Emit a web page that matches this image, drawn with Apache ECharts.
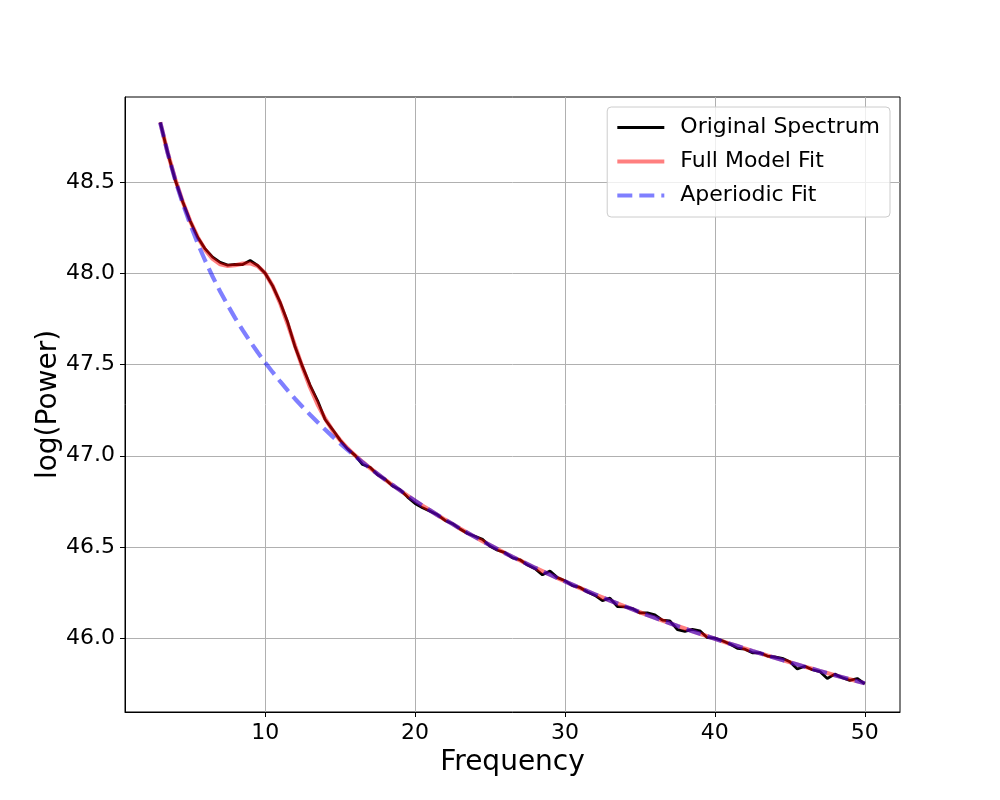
<!DOCTYPE html>
<html><head><meta charset="utf-8">
<script src="https://cdn.jsdelivr.net/npm/echarts@6/dist/echarts.min.js"></script>
<style>html,body{margin:0;padding:0;background:#fff}#c{width:1000px;height:800px}</style>
</head><body><div id="c"></div>
<script>
const freqs = [3,3.5,4,4.5,5,5.5,6,6.5,7,7.5,8,8.5,9,9.5,10,10.5,11,11.5,12,12.5,13,13.5,14,14.5,15,15.5,16,16.5,17,17.5,18,18.5,19,19.5,20,20.5,21,21.5,22,22.5,23,23.5,24,24.5,25,25.5,26,26.5,27,27.5,28,28.5,29,29.5,30,30.5,31,31.5,32,32.5,33,33.5,34,34.5,35,35.5,36,36.5,37,37.5,38,38.5,39,39.5,40,40.5,41,41.5,42,42.5,43,43.5,44,44.5,45,45.5,46,46.5,47,47.5,48,48.5,49,49.5,50];
const originalSpectrum = [48.831,48.663,48.514,48.395,48.289,48.200,48.136,48.091,48.062,48.047,48.051,48.050,48.072,48.045,48.002,47.933,47.843,47.734,47.597,47.488,47.387,47.302,47.199,47.144,47.086,47.038,47.002,46.952,46.937,46.896,46.871,46.834,46.813,46.773,46.738,46.714,46.695,46.676,46.645,46.627,46.598,46.573,46.558,46.541,46.503,46.481,46.468,46.439,46.429,46.400,46.380,46.346,46.367,46.331,46.314,46.287,46.277,46.252,46.233,46.205,46.218,46.172,46.170,46.161,46.137,46.137,46.126,46.097,46.093,46.045,46.036,46.047,46.039,46.001,45.999,45.984,45.966,45.943,45.938,45.918,45.918,45.900,45.895,45.888,45.869,45.829,45.844,45.825,45.815,45.777,45.801,45.781,45.767,45.777,45.748];
const fullModelFit = [48.831,48.663,48.519,48.395,48.289,48.200,48.131,48.081,48.052,48.042,48.046,48.055,48.057,48.042,48.002,47.933,47.838,47.724,47.602,47.483,47.375,47.282,47.204,47.139,47.086,47.041,47.002,46.966,46.932,46.900,46.869,46.839,46.810,46.781,46.753,46.726,46.700,46.674,46.649,46.625,46.600,46.577,46.554,46.531,46.509,46.488,46.466,46.445,46.425,46.405,46.385,46.366,46.347,46.328,46.310,46.292,46.274,46.256,46.239,46.222,46.205,46.189,46.173,46.157,46.141,46.125,46.110,46.095,46.080,46.065,46.051,46.037,46.023,46.009,45.995,45.981,45.968,45.955,45.941,45.928,45.916,45.903,45.891,45.878,45.866,45.854,45.842,45.830,45.818,45.807,45.795,45.784,45.773,45.762,45.751];
const aperiodicFit = [48.830,48.661,48.515,48.386,48.271,48.166,48.071,47.983,47.902,47.827,47.756,47.690,47.627,47.568,47.512,47.459,47.408,47.359,47.312,47.268,47.225,47.184,47.144,47.105,47.068,47.032,46.998,46.964,46.931,46.900,46.869,46.839,46.810,46.781,46.753,46.726,46.700,46.674,46.649,46.625,46.600,46.577,46.554,46.531,46.509,46.488,46.466,46.445,46.425,46.405,46.385,46.366,46.347,46.328,46.310,46.292,46.274,46.256,46.239,46.222,46.205,46.189,46.173,46.157,46.141,46.125,46.110,46.095,46.080,46.065,46.051,46.037,46.023,46.009,45.995,45.981,45.968,45.955,45.941,45.928,45.916,45.903,45.891,45.878,45.866,45.854,45.842,45.830,45.818,45.807,45.795,45.784,45.773,45.762,45.751];
const xTicks = [10,20,30,40,50];
const yTicks = [46.0,46.5,47.0,47.5,48.0,48.5];
const seriesNames = ['Original Spectrum','Full Model Fit','Aperiodic Fit'];

const pairs = arr => freqs.map((f,i)=>[f,arr[i]]);
const FONT = 'DejaVu Sans';
const styles = [
  {color:'#000', width:2.8, type:'solid'},
  {color:'rgba(255,0,0,0.5)', width:4.2, type:'solid'},
  {color:'rgba(0,0,255,0.5)', width:4.2, type:[15,7]}
];
const chart = echarts.init(document.getElementById('c'), null, {renderer:'canvas'});
chart.setOption({
  animation:false,
  backgroundColor:'#fff',
  textStyle:{fontFamily:FONT},
  grid:{left:125, top:97, width:775, height:615, show:true, borderColor:'#000', borderWidth:1, containLabel:false},
  xAxis:{
    type:'value', min:0.65, max:52.35,
    name:'Frequency', nameLocation:'middle', nameGap:37,
    nameTextStyle:{fontFamily:FONT, fontSize:28, color:'#000'},
    axisLine:{show:true, onZero:false, lineStyle:{color:'#000', width:1}},
    axisTick:{show:true, length:5, customValues:xTicks, lineStyle:{color:'#000'}},
    axisLabel:{customValues:xTicks, margin:10, fontFamily:FONT, fontSize:22, color:'#000', formatter:v=>String(v)},
    splitLine:{show:true, lineStyle:{color:'#b0b0b0', width:1}}
  },
  yAxis:{
    type:'value', min:45.593, max:48.97,
    name:'log(Power)', nameLocation:'middle', nameGap:62, nameRotate:90, nameMoveOverlap:false,
    nameTextStyle:{fontFamily:FONT, fontSize:28, color:'#000'},
    axisLine:{show:true, onZero:false, lineStyle:{color:'#000', width:1}},
    axisTick:{show:true, length:5, customValues:yTicks, lineStyle:{color:'#000'}},
    axisLabel:{customValues:yTicks, margin:10, fontFamily:FONT, fontSize:22, color:'#000', formatter:v=>v.toFixed(1)},
    splitLine:{show:true, lineStyle:{color:'#b0b0b0', width:1}}
  },
  legend:{
    orient:'vertical', right:110, top:107,
    data:seriesNames.map((n,i)=>({name:n, itemStyle:{opacity:0, borderWidth:0}, lineStyle:{color:styles[i].color, width:styles[i].width, type:styles[i].type}})),
    itemWidth:47, itemHeight:14, itemGap:11,
    padding:[9,10,10,8],
    backgroundColor:'rgba(255,255,255,0.8)', borderColor:'#cccccc', borderWidth:1, borderRadius:4,
    textStyle:{fontFamily:FONT, fontSize:22, color:'#000', lineHeight:23, padding:[0,0,0,11]}
  },
  series:styles.map((s,i)=>({
    name:seriesNames[i], type:'line', data:pairs([originalSpectrum,fullModelFit,aperiodicFit][i]),
    showSymbol:false, symbol:'none', z:2+i,
    lineStyle:{color:s.color, width:s.width, type:s.type}, itemStyle:{color:s.color}
  }))
});
</script></body></html>
